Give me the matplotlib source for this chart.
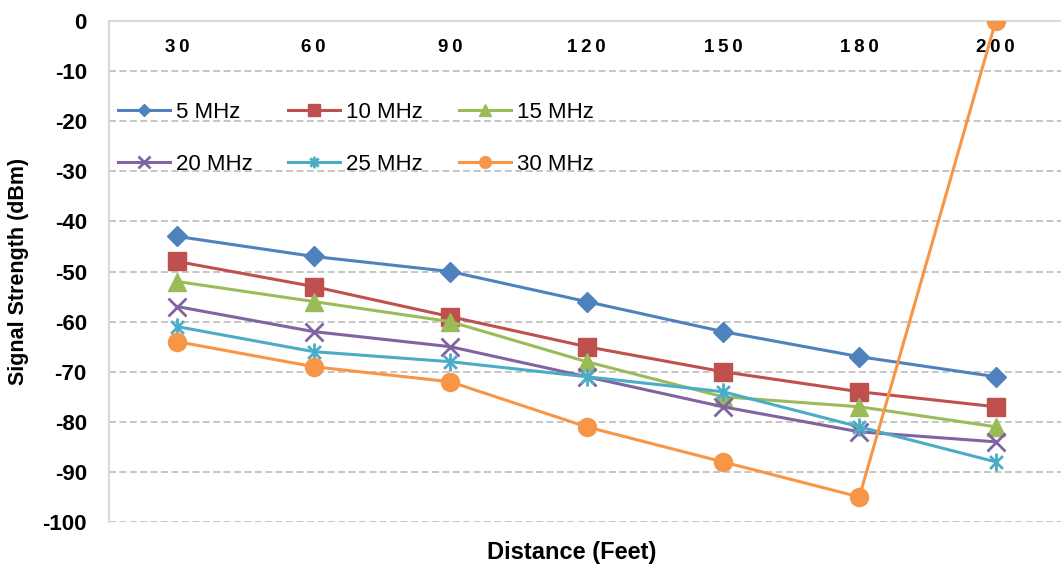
import numpy as np
import matplotlib.pyplot as plt
from matplotlib.path import Path

plt.rcParams['font.family'] = ['Liberation Sans', 'DejaVu Sans']
plt.rcParams['axes.unicode_minus'] = False

# distances (feet) and measured signal per channel width
distances = ['30', '60', '90', '120', '150', '180', '200']
mhz_5 = [-43, -47, -50, -56, -62, -67, -71]
mhz_10 = [-48, -53, -59, -65, -70, -74, -77]
mhz_15 = [-52, -56, -60, -68, -75, -77, -81]
mhz_20 = [-57, -62, -65, -71, -77, -82, -84]
mhz_25 = [-61, -66, -68, -71, -74, -81, -88]
mhz_30 = [-64, -69, -72, -81, -88, -95, 0]

# asterisk marker: vertical bar plus an x
asterisk = Path([(0, -1), (0, 1), (-0.71, -0.71), (0.71, 0.71), (-0.71, 0.71), (0.71, -0.71)],
                [Path.MOVETO, Path.LINETO, Path.MOVETO, Path.LINETO, Path.MOVETO, Path.LINETO])

series = [
    ('5 MHz', mhz_5, '#4F81BD', 'D', 10),
    ('10 MHz', mhz_10, '#C0504D', 's', 12.5),
    ('15 MHz', mhz_15, '#9BBB59', '^', 13),
    ('20 MHz', mhz_20, '#8064A2', 'x', 13),
    ('25 MHz', mhz_25, '#4BACC6', asterisk, 13),
    ('30 MHz', mhz_30, '#F79646', 'o', 13),
]

fig = plt.figure(figsize=(10.61, 5.68), dpi=100)
ax = fig.add_axes([109 / 1061, 46 / 568, 955 / 1061, 501 / 568])

x = np.arange(len(distances))
lines = []
for name, vals, color, marker, ms in series:
    thin = marker == 'x' or marker is asterisk
    ln, = ax.plot(x, vals, color=color, lw=2.2, marker=marker, ms=ms,
                  mec=color, mfc=color, mew=2 if thin else 1,
                  label=name, zorder=3)
    lines.append(ln)

ax.set_xlim(-0.5, len(distances) - 0.5)
ax.set_ylim(-100, 0)
ax.set_yticks(np.arange(-100, 1, 10))
ax.set_xticks(x)
# spaced-out digits on the category labels
ax.set_xticklabels(['\u2009'.join(d) for d in distances])

ax.grid(axis='y', color='#BFBFBF', lw=1.25, linestyle=(0, (4, 2)))
ax.set_axisbelow(True)

for s in ['bottom', 'right']:
    ax.spines[s].set_visible(False)
for s in ['left', 'top']:
    ax.spines[s].set_color('#D9D9D9')
    ax.spines[s].set_linewidth(1.5)

ax.tick_params(axis='x', top=True, labeltop=True, bottom=False, labelbottom=False,
               length=0, pad=-25, labelsize=13.5)
ax.tick_params(axis='y', length=0, pad=16, labelsize=16)
for lbl in ax.get_xticklabels() + ax.get_yticklabels():
    lbl.set_fontweight('bold')

ax.set_ylabel('Signal Strength (dBm)', fontsize=15.5, fontweight='bold')
ax.yaxis.set_label_coords(-0.084, 0.5)
fig.text(572 / 1061, 1 - 552 / 568, 'Distance (Feet)', fontsize=17, fontweight='bold',
         ha='center', va='center')

# legend fills row by row: 5/10/15 on top, 20/25/30 below
order = [0, 3, 1, 4, 2, 5]
ax.legend([lines[i] for i in order], [series[i][0] for i in order],
          loc='upper left', bbox_to_anchor=(0.009, 0.839), ncol=3, frameon=False,
          fontsize=16, borderpad=0, borderaxespad=0, handlelength=2.35,
          handletextpad=0.27, columnspacing=1.6, labelspacing=1.4, markerscale=0.65)

fig.savefig('out.png', dpi=100)
